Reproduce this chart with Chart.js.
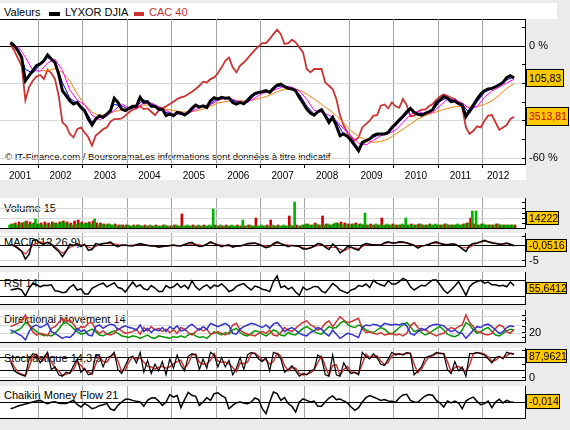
<!DOCTYPE html>
<html>
<head>
<meta charset="utf-8">
<title>LYXOR DJIA / CAC 40</title>
<script src="https://cdn.jsdelivr.net/npm/chart.js@4.4.1/dist/chart.umd.min.js"></script>
<style>
  body { margin: 0; width: 570px; height: 430px; background: #ebebeb; position: relative; overflow: hidden;
         font-family: "Liberation Sans", Arial, sans-serif; color: #000; }
  .white { position: absolute; left: 0; background: #fff; }
  .pane { position: absolute; left: 0; width: 525px; background: #fff; border-right: 1px solid #000; border-bottom: 1px solid #000; }
  canvas { position: absolute; left: 0; }
  .txt { position: absolute; font-size: 11px; line-height: 13px; white-space: nowrap; }
  .sw { position: absolute; top: 12px; height: 4px; }
  .val { position: absolute; left: 526px; background: #ffc800; border: 1px solid #000; box-sizing: border-box;
         font-size: 10.5px; padding-left: 2px; white-space: nowrap; }
</style>
</head>
<body>

<!-- backgrounds and frames -->
<div class="white" style="top:3px;width:557px;height:16px"></div>
<div class="white" style="top:3px;width:526px;height:177px"></div>
<div style="position:absolute;left:0;top:19px;width:525px;height:144px;border-top:1px solid #000;border-bottom:1px solid #000;border-right:1px solid #000"></div>
<div class="pane" style="top:198px;height:30px"></div>
<div class="pane" style="top:233px;height:33px"></div>
<div class="pane" style="top:272px;height:32px"></div>
<div class="pane" style="top:310px;height:32px"></div>
<div class="pane" style="top:348px;height:32px"></div>
<div class="pane" style="top:386px;height:32px"></div>

<!-- legend -->
<div class="txt" style="left:4px;top:6px">Valeurs</div>
<div class="sw" style="left:49px;width:11px;background:#000"></div>
<div class="txt" style="left:65px;top:6px">LYXOR DJIA</div>
<div class="sw" style="left:134px;width:10px;background:#cc3333"></div>
<div class="txt" style="left:149px;top:6px;color:#cc3333">CAC 40</div>

<!-- panel names (under the lines) -->
<div class="txt" style="left:5px;top:151px;font-size:9.5px;line-height:11px">© IT-Finance.com / BoursoramaLes informations sont données à titre indicatif</div>
<div class="txt" style="left:4px;top:202px">Volume 15</div>
<div class="txt" style="left:4px;top:236px">MACD(12,26,9)</div>
<div class="txt" style="left:4px;top:277px">RSI 14</div>
<div class="txt" style="left:4px;top:313px">Directional Movement 14</div>
<div class="txt" style="left:4px;top:352px">Stochastique 14,3,5</div>
<div class="txt" style="left:4px;top:389px">Chaikin Money Flow 21</div>

<canvas id="cMain" width="570" height="166" style="top:19px"></canvas>
<canvas id="cVol" width="570" height="38" style="top:198px"></canvas>
<canvas id="cMacd" width="570" height="41" style="top:233px"></canvas>
<canvas id="cRsi" width="570" height="40" style="top:272px"></canvas>
<canvas id="cDm" width="570" height="40" style="top:310px"></canvas>
<canvas id="cSto" width="570" height="40" style="top:348px"></canvas>
<canvas id="cCmf" width="570" height="40" style="top:386px"></canvas>

<!-- last values -->
<div class="val" style="top:69px;width:38px;height:18px;line-height:16px">105,83</div>
<div class="val" style="top:107px;width:43px;height:19px;line-height:17px;color:#cc0000">3513,81</div>
<div class="val" style="top:211px;width:33px;height:14px;line-height:12px">14222</div>
<div class="val" style="top:239px;width:41px;height:13px;line-height:11px">-0,0516</div>
<div class="val" style="top:282px;width:41px;height:12px;line-height:10px">55,6412</div>
<div class="val" style="top:349px;width:41px;height:14px;line-height:12px">87,9621</div>
<div class="val" style="top:394px;width:34px;height:15px;line-height:13px">-0,014</div>

<script>
// monthly samples, May 2001 .. Sep 2012
const START_YEAR = 2001, START_MONTH = 5;
const X_MIN = 2001.137, X_MAX = 2012.977;

const yearTicks = [2002, 2003, 2004, 2005, 2006, 2007, 2008, 2009, 2010, 2011, 2012];
const yearLabels = ['2001', '2002', '2003', '2004', '2005', '2006', '2007', '2008', '2009', '2010', '2011', '2012'];
const yearLabelPos = [2001.59, 2002.5, 2003.5, 2004.5, 2005.5, 2006.5, 2007.5, 2008.5, 2009.5, 2010.5, 2011.5, 2012.35];
const pctTicks = [-60, -50, -40, -30, -20, -10, 0, 10];

// % change since start
const djia = [
  2.0, 0.2, -2.5, -6.1, -18.6, -15.9, -13.2, -10.5,
  -9.6, -7.9, -4.8, -7.0, -8.8, -15.0, -23.9, -26.6, -29.3, -31.1, -30.2, -32.9,
  -34.6, -39.1, -42.3, -39.1, -37.3, -38.2, -36.4, -34.6, -28.0, -30.2, -33.8, -34.6,
  -33.4, -32.3, -32.3, -27.5, -30.2, -29.8, -32.3, -32.3, -33.8, -33.8, -37.3, -36.4,
  -37.3, -35.5, -36.0, -37.0, -35.5, -33.4, -31.6, -32.7, -32.0, -32.9, -29.3, -27.7,
  -28.4, -27.5, -28.0, -27.7, -30.2, -31.1, -30.2, -30.9, -29.1, -27.0, -25.5, -24.8,
  -24.5, -23.9, -24.8, -22.7, -20.9, -20.4, -21.8, -22.7, -23.0, -23.9, -27.5, -30.5,
  -33.8, -35.9, -37.0, -35.2, -34.1, -37.3, -40.9, -38.2, -42.7, -48.0, -47.1, -48.4,
  -50.7, -53.4, -56.1, -51.6, -50.7, -49.8, -48.0, -47.1, -47.1, -47.1, -46.3, -43.6,
  -41.8, -39.5, -37.7, -35.2, -33.4, -35.5, -36.6, -37.0, -36.1, -35.2, -34.1, -30.5,
  -28.8, -27.0, -28.0, -29.8, -29.5, -30.9, -31.6, -37.7, -34.6, -31.6, -28.4, -25.7,
  -23.9, -23.0, -22.7, -21.8, -20.7, -19.5, -17.0, -15.9, -17.1
];
const cac40 = [
  1.1, -2.5, -6.6, -10.5, -29.0, -22.0, -18.6, -16.3,
  -15.5, -17.7, -12.7, -14.5, -17.7, -26.6, -40.9, -42.7, -47.1, -48.9, -44.5, -43.6,
  -46.3, -48.9, -53.4, -48.0, -46.3, -44.5, -43.6, -40.5, -39.1, -39.1, -38.8, -37.3,
  -35.5, -34.1, -33.4, -32.3, -33.8, -33.4, -35.2, -37.0, -34.6, -33.4, -32.3, -31.1,
  -29.8, -28.4, -27.5, -27.0, -25.7, -24.5, -23.0, -21.3, -19.1, -19.5, -17.7, -16.8,
  -14.6, -11.4, -7.9, -6.1, -11.4, -14.1, -10.5, -8.8, -6.6, -4.3, -2.0, -0.2,
  1.6, 1.6, 3.8, 6.4, 8.8, 6.4, 1.1, 1.6, 3.4, 2.0, -0.7, -3.4,
  -12.3, -14.1, -12.3, -12.3, -12.3, -19.5, -21.3, -23.0, -28.4, -37.3, -42.7, -46.3,
  -48.9, -50.7, -49.0, -43.6, -41.8, -40.0, -37.3, -37.0, -32.0, -31.3, -33.4, -30.2,
  -32.3, -33.0, -28.4, -31.6, -37.7, -37.3, -35.2, -34.1, -34.1, -32.3, -31.1, -28.8,
  -27.0, -25.9, -26.6, -27.7, -28.4, -30.2, -32.9, -43.6, -47.1, -45.4, -43.0, -43.6,
  -40.0, -37.3, -37.0, -40.9, -44.8, -43.6, -42.3, -39.1, -37.9
];
// moving averages of the DJIA tracker, every 2nd month
const maFast = [2.0, -1.2, -12.5, -14.5, -10.0, -6.3, -8.0, -19.5, -28.0, -30.6,
  -33.8, -40.7, -38.2, -37.3, -31.3, -32.0, -34.0, -32.3, -28.8, -31.0,
  -33.0, -35.5, -36.8, -35.8, -36.3, -32.5, -32.3, -31.0, -28.0, -27.8,
  -29.0, -30.6, -30.0, -26.2, -24.6, -24.3, -21.8, -21.1, -22.8, -25.7,
  -32.1, -36.4, -34.6, -39.1, -40.4, -47.5, -49.5, -54.7, -51.2, -48.9,
  -47.1, -46.7, -42.7, -38.6, -34.3, -36.0, -36.5, -34.6, -29.6, -27.5,
  -29.6, -31.2, -36.1, -30.0, -24.8, -22.8, -21.2, -18.2, -16.5];
const maFastFirst = 0;
const maMid = [0.0, -6.0, -13.0, -13.5, -9.0, -7.0, -13.0, -23.5, -29.0, -31.5,
  -37.0, -39.5, -37.5, -34.5, -31.0, -33.0, -33.0, -30.5, -30.5, -32.5,
  -34.5, -36.5, -36.5, -36.0, -34.0, -32.3, -31.5, -29.0, -28.0, -28.5,
  -30.2, -30.2, -27.8, -25.3, -24.4, -23.0, -21.5, -22.0, -24.0, -28.5,
  -34.5, -35.5, -37.0, -40.0, -44.5, -48.2, -52.0, -53.0, -50.5, -48.0,
  -47.0, -45.0, -41.0, -36.7, -35.0, -36.5, -35.5, -32.0, -28.5, -28.8,
  -30.5, -33.5, -32.5, -27.5, -24.0, -22.0, -19.8, -17.8];
const maMidFirst = 2;
const maSlow = [-13.2, -13.2, -12.0, -14.1, -18.6, -25.7, -31.1, -35.5, -37.3, -36.4,
  -35.2, -34.1, -33.4, -32.3, -31.6, -31.6, -32.3, -33.8, -34.6, -35.2,
  -35.5, -34.8, -33.8, -32.3, -30.5, -29.8, -29.1, -29.3, -29.5, -28.6,
  -27.7, -26.3, -24.5, -23.2, -22.9, -23.6, -25.7, -28.4, -31.3, -34.1,
  -37.3, -41.3, -45.4, -48.4, -50.4, -51.6, -51.1, -49.8, -47.1, -44.5,
  -41.8, -39.1, -37.3, -35.9, -34.6, -33.4, -32.5, -32.3, -32.7, -32.5,
  -31.3, -29.3, -26.3, -22.7, -20.0];
const maSlowFirst = 8;

// volume (thousands), up days / down days
const volUp = [
  3, 4, 3, 5, 6, 4, 4, 9, 4, 3, 4, 3, 5, 4, 6, 5, 4, 3, 4, 5,
  4, 5, 4, 9, 3, 4, 3, 4, 3, 2, 3, 2, 3, 2, 2, 3, 2, 2, 3, 2,
  2, 2, 3, 2, 2, 3, 2, 2, 3, 2, 2, 3, 2, 2, 3, 19, 2, 3, 2, 2,
  3, 2, 2, 8, 2, 3, 2, 2, 3, 2, 2, 3, 2, 2, 3, 2, 3, 26, 2, 3,
  4, 3, 3, 4, 3, 3, 4, 3, 5, 4, 3, 4, 3, 4, 3, 4, 15, 3, 3, 4,
  3, 3, 4, 3, 3, 3, 4, 10, 3, 3, 3, 4, 3, 3, 3, 4, 3, 3, 4, 3,
  3, 4, 3, 4, 5, 17, 17, 3, 4, 3, 3, 3, 4, 3, 3, 3, 3
];
const volDown = [
  4, 5, 6, 5, 7, 6, 5, 4, 5, 6, 5, 6, 5, 6, 7, 6, 5, 7, 8, 6,
  5, 6, 7, 5, 5, 4, 4, 3, 4, 3, 3, 3, 2, 3, 3, 2, 3, 2, 2, 3,
  2, 3, 2, 2, 3, 2, 14, 2, 2, 3, 2, 2, 3, 2, 2, 3, 2, 2, 3, 2,
  2, 3, 2, 2, 3, 2, 10, 2, 2, 3, 8, 2, 3, 2, 2, 12, 2, 3, 2, 3,
  4, 3, 5, 3, 12, 4, 3, 4, 5, 6, 5, 4, 4, 5, 4, 3, 3, 4, 3, 3,
  10, 3, 3, 4, 3, 3, 3, 3, 4, 3, 4, 3, 3, 4, 3, 3, 3, 4, 3, 3,
  3, 3, 4, 5, 10, 4, 3, 4, 3, 3, 3, 4, 3, 3, 3, 3, 3
];

const macd = [
  0.5, -0.1, -0.9, -1.9, -4.5, -2.9, 1.8, 2.0,
  0.9, 0.4, 1.2, 0.5, -0.8, -1.9, -3.7, -1.9, 0.5, 0.1, 0.7, -0.3,
  0.5, -1.5, -1.3, 0.7, 0.4, 0.7, 0.9, 1.2, 0.2, -0.3, 0.2, 0.2,
  0, -0.1, 0.3, 0.7, 0.4, 0.1, -0.1, -0.1, -0.5, -0.3, -0.1, 0.1,
  0.2, 0, -0.1, 0.4, 0.9, 1.1, 0.2, -0.3, -0.1, 0.5, 1.3, 0.7,
  0.2, -0.3, 0.1, 0.3, -0.5, -0.1, -0.1, 0.2, 0.7, 0.8, 0.9, 0.5,
  -0.1, -0.7, -0.3, 0.7, 1.3, 0.7, 0.2, -0.3, 0.1, 0.0, -0.3, -1.1,
  -1.1, -0.8, -0.1, 0.7, 0.5, -0.5, -1.3, 0.5, -0.5, -2.4, -1.5, -0.3,
  -0.5, -1.1, -1.5, 0.2, 0.7, 0.5, 0.2, 0.2, 0.2, 1.0, 1.3, 0.9,
  0.9, 1.3, 1.2, 0.9, 0.5, 0.1, -0.8, -0.1, 0.1, 0.5, 1.0, 1.3,
  0.7, 0.4, 0.3, 0.6, 0.5, -0.1, -1.1, -1.9, 0.1, 0.7, 0.9, 1.3,
  1.8, 1.3, 0.9, 0.7, 0.5, 0.6, 0.9, 0.5, -0.1
];
// signal line, every 2nd month
const macdSignal = [0.4, -0.6, -2.8, 0.2, 1.3, 0.9, -0.3, -2.6, -0.6, 0.4,
  0.2, -1.0, 0.4, 0.8, 0.6, 0.0, 0.1, 0.3, 0.4, 0.0,
  -0.3, -0.2, 0.1, 0.0, 0.6, 0.5, 0.0, 0.9, 0.4, 0.0,
  -0.2, -0.1, 0.5, 0.8, 0.1, -0.3, 0.9, 0.4, 0.0, -0.3,
  -1.0, -0.3, 0.4, -0.6, -0.6, -1.7, -0.6, -1.0, 0.3, 0.4,
  0.3, 1.0, 1.0, 1.1, 0.7, -0.3, 0.1, 0.8, 0.9, 0.4,
  0.5, -0.7, -0.6, 0.8, 1.5, 1.1, 0.6, 0.7, 0.2];

const rsi = [
  45, 47, 49, 45, 30, 49, 62, 58,
  53, 57, 56, 58, 43, 42, 38, 40, 52, 58, 45, 48,
  35, 35, 49, 54, 59, 62, 53, 58, 63, 51, 49, 40,
  53, 65, 53, 58, 48, 45, 56, 50, 41, 41, 56, 50,
  53, 61, 51, 57, 48, 68, 53, 45, 53, 58, 49, 57,
  54, 60, 52, 41, 45, 54, 58, 61, 52, 45, 55, 52,
  47, 45, 41, 66, 80, 51, 55, 47, 52, 40, 32, 52,
  45, 49, 54, 53, 43, 38, 49, 61, 55, 45, 41, 37,
  45, 48, 56, 54, 60, 51, 69, 62, 58, 55, 68, 60,
  60, 66, 74, 69, 53, 45, 51, 57, 55, 63, 70, 70,
  58, 45, 37, 45, 55, 66, 49, 32, 53, 62, 66, 69,
  62, 65, 58, 58, 55, 57, 53, 65, 56
];

const diPlus = [
  24, 22, 19, 17, 12, 22, 28, 30,
  27, 29, 32, 22, 20, 17, 14, 16, 15, 19, 26, 22,
  24, 18, 17, 28, 30, 26, 29, 31, 30, 24, 27, 29,
  27, 26, 24, 30, 22, 26, 21, 25, 23, 27, 22, 28,
  25, 29, 23, 24, 28, 31, 27, 24, 28, 25, 32, 30,
  28, 30, 32, 29, 20, 19, 25, 28, 30, 32, 31, 29,
  27, 30, 26, 31, 33, 28, 22, 25, 27, 24, 20, 18,
  17, 21, 23, 27, 25, 20, 17, 24, 19, 14, 17, 20,
  19, 17, 15, 27, 30, 29, 31, 30, 28, 32, 31, 30,
  31, 30, 32, 29, 20, 18, 22, 26, 24, 28, 30, 31,
  30, 29, 25, 22, 24, 21, 20, 14, 19, 24, 28, 27,
  30, 31, 28, 24, 20, 22, 27, 29, 28
];
const diMinus = [
  28, 30, 32, 35, 42, 30, 22, 18,
  20, 19, 17, 26, 28, 33, 38, 34, 36, 31, 24, 28,
  27, 32, 33, 24, 20, 23, 19, 18, 20, 26, 23, 20,
  21, 22, 25, 19, 27, 23, 28, 24, 26, 22, 25, 21,
  24, 20, 27, 25, 21, 18, 22, 26, 23, 25, 19, 20,
  22, 20, 18, 21, 30, 32, 24, 21, 19, 18, 17, 20,
  22, 20, 24, 18, 17, 21, 27, 24, 22, 26, 30, 33,
  35, 30, 28, 24, 26, 32, 35, 28, 34, 40, 36, 33,
  34, 36, 38, 25, 21, 22, 20, 19, 21, 18, 19, 20,
  18, 19, 17, 20, 29, 33, 27, 23, 25, 21, 19, 17,
  19, 20, 24, 27, 25, 28, 30, 42, 33, 28, 22, 21,
  19, 18, 20, 26, 30, 28, 22, 20, 25
];
const adx = [
  20, 22, 24, 27, 33, 30, 26, 22,
  19, 17, 18, 17, 20, 25, 31, 33, 30, 26, 22, 19,
  20, 23, 25, 22, 18, 17, 19, 21, 23, 20, 17, 16,
  15, 17, 16, 14, 16, 18, 15, 14, 17, 16, 15, 14,
  16, 15, 17, 15, 18, 20, 17, 15, 16, 14, 18, 22,
  20, 18, 21, 19, 24, 26, 21, 18, 17, 20, 23, 22,
  19, 17, 20, 24, 22, 18, 17, 21, 19, 18, 22, 26,
  28, 25, 22, 20, 19, 24, 28, 26, 27, 32, 35, 31,
  28, 27, 30, 28, 24, 22, 21, 24, 27, 25, 21, 19,
  23, 27, 30, 33, 28, 22, 24, 21, 18, 20, 23, 26,
  28, 24, 19, 17, 16, 18, 24, 33, 30, 24, 20, 22,
  25, 27, 22, 18, 17, 20, 23, 25, 24
];

const stoK = [
  60, 25, 15, 10, 5, 70, 90, 85,
  55, 75, 95, 30, 40, 10, 5, 20, 15, 45, 70, 20,
  35, 10, 15, 85, 80, 40, 75, 80, 95, 30, 15, 45,
  75, 80, 55, 95, 20, 65, 15, 50, 25, 60, 10, 70,
  35, 85, 45, 25, 80, 90, 85, 30, 70, 35, 95, 85,
  40, 75, 40, 65, 10, 35, 75, 30, 85, 95, 90, 70,
  60, 75, 25, 95, 90, 70, 20, 30, 45, 25, 5, 15,
  10, 25, 30, 85, 75, 10, 5, 85, 10, 5, 55, 30,
  15, 20, 10, 95, 80, 70, 90, 75, 50, 45, 70, 95,
  85, 90, 85, 95, 90, 10, 25, 40, 75, 80, 85, 95,
  90, 90, 30, 15, 60, 25, 40, 5, 90, 90, 95, 90,
  85, 70, 55, 75, 80, 70, 95, 90, 88
];
const stoD = [
  65, 40, 20, 12, 8, 40, 80, 88,
  70, 65, 85, 60, 35, 25, 8, 12, 18, 30, 60, 45,
  28, 22, 12, 50, 82, 60, 58, 78, 88, 62, 22, 30,
  60, 78, 68, 75, 58, 42, 40, 32, 38, 42, 35, 40,
  52, 60, 65, 35, 52, 85, 88, 58, 50, 52, 65, 90,
  62, 58, 58, 52, 38, 22, 55, 52, 58, 90, 92, 80,
  65, 68, 50, 60, 92, 80, 45, 25, 38, 35, 15, 10,
  12, 18, 28, 58, 80, 42, 8, 45, 48, 8, 30, 42,
  22, 18, 15, 52, 88, 75, 80, 82, 62, 48, 58, 82,
  90, 88, 88, 90, 92, 50, 18, 32, 58, 78, 82, 90,
  92, 90, 60, 22, 38, 42, 32, 22, 48, 90, 92, 92,
  88, 78, 62, 65, 78, 75, 82, 92, 89
];

const cmf = [
  -0.42, -0.35, -0.25, -0.19, -0.12, -0.06, 0, 0.06,
  0.10, -0.02, -0.10, -0.02, 0.02, -0.08, -0.10, -0.10, 0, 0.10, -0.15, -0.31,
  -0.10, -0.23, -0.42, -0.35, -0.23, -0.17, -0.10, -0.44, -0.52, -0.21, 0, 0.17,
  0.17, 0.10, 0.04, 0, -0.27, 0.10, 0.25, 0.27, 0.06, -0.21, 0, 0.46,
  0.31, 0.40, -0.35, 0.15, 0.60, 0.42, 0.35, -0.21, 0, 0.27, 0.10, 0.52,
  0.58, 0.40, 0.27, -0.42, -0.21, -0.04, 0, -0.06, -0.10, 0, 0.25, 0.15,
  -0.42, -0.73, 0, 0.62, 0.52, 0.10, 0.27, -0.10, -0.27, -0.63, 0, 0.19,
  0.10, 0, 0.06, -0.27, -0.27, 0, 0.25, 0.38, 0.15, 0.19, 0.06, -0.06,
  -0.31, -0.52, -0.35, 0, 0.27, 0.40, 0.31, 0.21, 0.10, 0.15, 0.06, 0.04,
  -0.02, 0.27, 0.44, 0.48, 0.10, 0, -0.02, 0.19, 0.38, 0.46, 0.42, 0.10,
  -0.06, -0.31, 0.06, -0.06, 0.06, -0.06, -0.42, 0.06, 0.21, 0.31, 0.04, -0.17,
  -0.10, 0.06, -0.35, 0, 0.17, -0.06, 0.10, 0, -0.01
];

Chart.defaults.font.family = '"Liberation Sans", Arial, sans-serif';
Chart.defaults.font.size = 11;
Chart.defaults.color = '#000';
Chart.defaults.animation = false;
Chart.defaults.responsive = false;
Chart.defaults.events = [];
Chart.defaults.plugins.legend.display = false;
Chart.defaults.plugins.tooltip.enabled = false;
Chart.defaults.elements.point.radius = 0;
Chart.defaults.elements.line.tension = 0;

const CLEAR = 'rgba(0,0,0,0)';
const LIGHT = '#d9d9d9';
const YEARLINE = '#a6a6a6';

// month index -> decimal year (middle of the month)
const monthX = i => START_YEAR + (START_MONTH - 1 + i + 0.5) / 12;
const series = (vals, first = 0, step = 1) => vals.map((v, k) => ({ x: monthX(first + k * step), y: v }));
const line = (vals, color, width, first, step) => ({
  type: 'line', data: series(vals, first, step), borderColor: color, borderWidth: width, fill: false
});

// keep every plot area exactly where the frames are: no label padding around scales
const noPad = s => { s.paddingTop = 0; s.paddingBottom = 0; s.paddingLeft = 0; s.paddingRight = 0; };

function yearGrid(extra) {
  return Object.assign({
    type: 'linear', position: 'bottom', min: X_MIN, max: X_MAX, offset: false,
    afterBuildTicks: s => { s.ticks = yearTicks.map(v => ({ value: v })); },
    afterFit: s => { s.height = 0; noPad(s); },
    ticks: { display: false },
    grid: { color: YEARLINE, drawTicks: false, offset: false },
    border: { display: false }
  }, extra || {});
}

// right-hand axis; short marks are drawn just inside the plot (negative tick length)
function sideAxis(min, max, marks, lineColor, label, marked) {
  return {
    position: 'right', min: min, max: max,
    afterBuildTicks: s => { s.ticks = marks.map(v => ({ value: v })); },
    afterFit: s => { s.width = 44; noPad(s); },
    grid: {
      color: c => lineColor(c.tick.value), drawTicks: true, tickLength: -4,
      tickColor: c => (marked(c.tick.value) ? '#000' : CLEAR)
    },
    border: { display: false },
    ticks: { padding: 7, autoSkip: false, callback: label }
  };
}

function panel(id, type, datasets, y) {
  return new Chart(document.getElementById(id), {
    type: type,
    data: { datasets: datasets },
    options: { layout: { padding: { bottom: 8 } }, scales: { x: yearGrid(), y: y } }
  });
}

// main price chart
new Chart(document.getElementById('cMain'), {
  type: 'line',
  data: {
    datasets: [
      line(djia, '#000000', 3),
      line(maFast, '#0000ff', 1, maFastFirst, 2),
      line(maMid, '#ff00ff', 1, maMidFirst, 2),
      line(maSlow, '#ff8000', 1, maSlowFirst, 2),
      line(cac40, '#cc3333', 1.8)
    ]
  },
  options: {
    scales: {
      x: yearGrid({
        grid: {
          color: c => (c.tick && c.tick.value === 2008 ? CLEAR : YEARLINE),
          drawTicks: true, tickLength: 4, tickColor: '#000', offset: false
        }
      }),
      xl: {
        type: 'linear', axis: 'x', position: 'bottom', min: X_MIN, max: X_MAX, offset: false,
        afterBuildTicks: s => { s.ticks = yearLabelPos.map(v => ({ value: v })); },
        afterFit: s => { s.height = 21; noPad(s); },
        grid: { display: false, drawTicks: false },
        border: { display: false },
        ticks: { autoSkip: false, maxRotation: 0, padding: 6, font: { size: 10 },
                 callback: (v, i) => yearLabels[i] }
      },
      y: sideAxis(-63.2, 14.5, pctTicks,
        v => (v === 0 ? '#000' : (v % 20 === 0 ? LIGHT : CLEAR)),
        v => (v % 20 === 0 ? v + ' %' : ''),
        v => v !== 0)
    }
  }
});

panel('cVol', 'bar', [
  { data: series(volUp), backgroundColor: '#00b400', barThickness: 2 },
  { data: series(volDown), backgroundColor: '#cc0000', barThickness: 2 }
], sideAxis(0, 30, [5, 10, 15, 20, 25], v => (v % 10 === 0 ? LIGHT : CLEAR), () => '', () => true));

panel('cMacd', 'line', [
  line(macd, '#000000', 1.5),
  line(macdSignal, '#cc3333', 1.2, 0, 2)
], sideAxis(-6.77, 4.23, [3, 0, -5], v => (v === 0 ? '#000' : LIGHT), v => (v === -5 ? '-5' : ''), v => v !== 0));

panel('cRsi', 'line', [
  line(rsi, '#000000', 1.5)
], sideAxis(10, 90, [70, 30], () => '#000', () => '', () => true));

panel('cDm', 'line', [
  line(diPlus, '#3333cc', 1.5),
  line(diMinus, '#cc3333', 1.5),
  line(adx, '#009900', 1.5)
], sideAxis(9.6, 48, [15, 20, 21, 28, 30, 35, 40, 42],
  v => (v % 10 === 0 ? LIGHT : CLEAR), v => (v === 20 ? '20' : ''), v => v % 10 !== 0));

panel('cSto', 'line', [
  line(stoK, '#000000', 1.2),
  line(stoD, '#cc3333', 1.5)
], sideAxis(-9.4, 111.3, [0, 25, 50, 75, 100],
  v => (v === 25 || v === 75 ? '#000' : (v === 50 ? CLEAR : LIGHT)), v => (v === 0 ? '0' : ''), () => true));

panel('cCmf', 'line', [
  line(cmf, '#000000', 1.5)
], sideAxis(-1, 1, [0], () => '#000', () => '', () => false));
</script>
</body>
</html>
